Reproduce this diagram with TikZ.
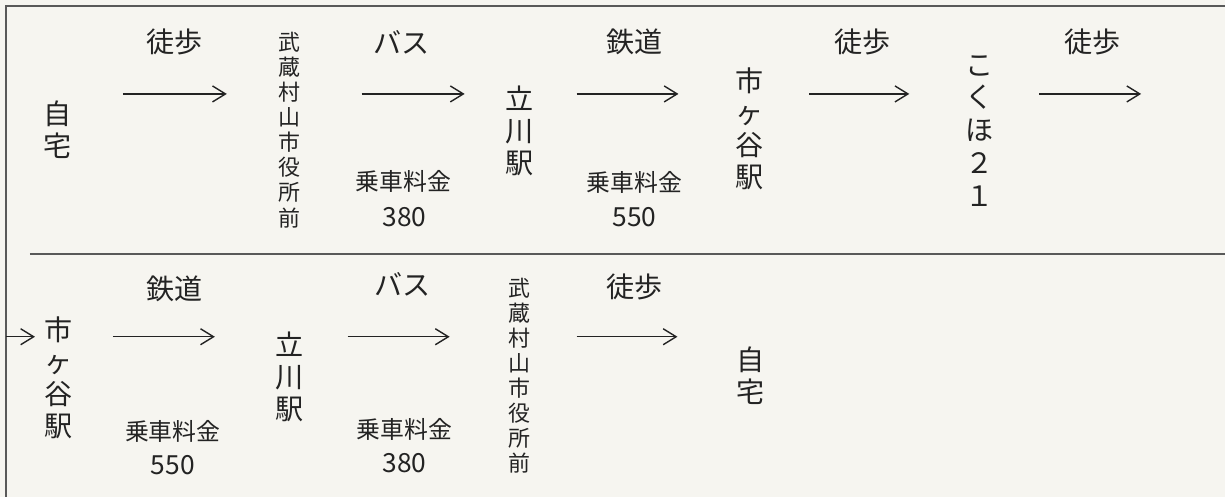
\documentclass[tikz,border=0pt]{standalone}
\usepackage{fontspec}
\setmainfont{Noto Sans CJK JP}
\usepackage{tikz}
\usetikzlibrary{arrows.meta}
\tikzset{>={Straight Barb[length=2.6mm,width=3.2mm]}}
\definecolor{paper}{RGB}{246,245,240}
\definecolor{ink}{RGB}{35,35,35}

\begin{document}
\begin{tikzpicture}[x=0.02cm,y=-0.02cm,
    stopname/.style={align=center,inner sep=0pt,text=ink,font=\fontsize{16}{18.2}\selectfont},
    longstop/.style={align=center,inner sep=0pt,text=ink,font=\fontsize{12.5}{14.3}\selectfont},
    modename/.style={inner sep=0pt,text=ink,font=\fontsize{16}{18}\selectfont},
    farename/.style={inner sep=0pt,text=ink,font=\fontsize{13.6}{16}\selectfont},
    fareval/.style={inner sep=0pt,text=ink,font=\fontsize{15}{16}\selectfont},
    travel/.style={->,line width=0.8pt,ink},
    border/.style={line width=1.1pt,black!65}]
  % paper and frame
  \fill[paper] (0,0) rectangle (1226,497);
  \draw[border] (6,497) -- (6,6) -- (1226,6);
  \draw[border] (30,254) -- (1226,254);

  % outward trip
  \node[stopname] (home1) at (58,130) {自\\宅};
  \node[modename] (walk1) at (175,42) {徒歩};
  \node[longstop] (musashi1) at (290,130) {武\\蔵\\村\\山\\市\\役\\所\\前};
  \node[modename] (bus1) at (402,42) {バス};
  \node[farename] (fare1) at (404,182) {乗車料金};
  \node[fareval] (cost1) at (405,217) {380};
  \node[stopname] (tachikawa1) at (520,131) {立\\川\\駅};
  \node[modename] (rail1) at (635,42) {鉄道};
  \node[farename] (fare2) at (635,183) {乗車料金};
  \node[fareval] (cost2) at (635,217) {550};
  \node[stopname] (ichigaya1) at (750,129) {市\\ヶ\\谷\\駅};
  \node[modename] (walk2) at (863,42) {徒歩};
  \node[stopname,font=\fontsize{16}{18.7}\selectfont] (kokuho) at (980,131) {こ\\く\\ほ\\２\\１};
  \node[modename] (walk3) at (1093,42) {徒歩};

  % way back
  \node[stopname] (ichigaya2) at (59,378) {市\\ヶ\\谷\\駅};
  \node[modename] (rail2) at (175,289) {鉄道};
  \node[farename] (fare3) at (173,432) {乗車料金};
  \node[fareval] (cost3) at (173,465) {550};
  \node[stopname] (tachikawa2) at (290,377) {立\\川\\駅};
  \node[modename] (bus2) at (403,285) {バス};
  \node[farename] (fare4) at (405,430) {乗車料金};
  \node[fareval] (cost4) at (405,463) {380};
  \node[longstop] (musashi2) at (520,376) {武\\蔵\\村\\山\\市\\役\\所\\前};
  \node[modename] (walk4) at (635,287) {徒歩};
  \node[stopname] (home2) at (751,376) {自\\宅};

  % arrows
  \coordinate (row1) at (0,94);
  \coordinate (row2) at (0,337);
  \coordinate (end1) at (1142,94);
  \coordinate (start2) at (6,337);
  \foreach \a/\b/\s/\e in {home1/musashi1/65/63,musashi1/tachikawa1/72/55,
      tachikawa1/ichigaya1/57/71,ichigaya1/kokuho/60/70}
    \draw[travel,shorten <=\s*0.02cm,shorten >=\e*0.02cm] (\a |- row1) -- (\b |- row1);
  \draw[travel,shorten <=1.2cm] (kokuho |- row1) -- (end1);
  \draw[travel,shorten >=0.48cm] (start2) -- (ichigaya2 |- row2);
  \foreach \a/\b/\s/\e in {ichigaya2/tachikawa2/54/75,tachikawa2/musashi2/58/70,
      musashi2/home2/57/73}
    \draw[travel,shorten <=\s*0.02cm,shorten >=\e*0.02cm] (\a |- row2) -- (\b |- row2);
\end{tikzpicture}
\end{document}
